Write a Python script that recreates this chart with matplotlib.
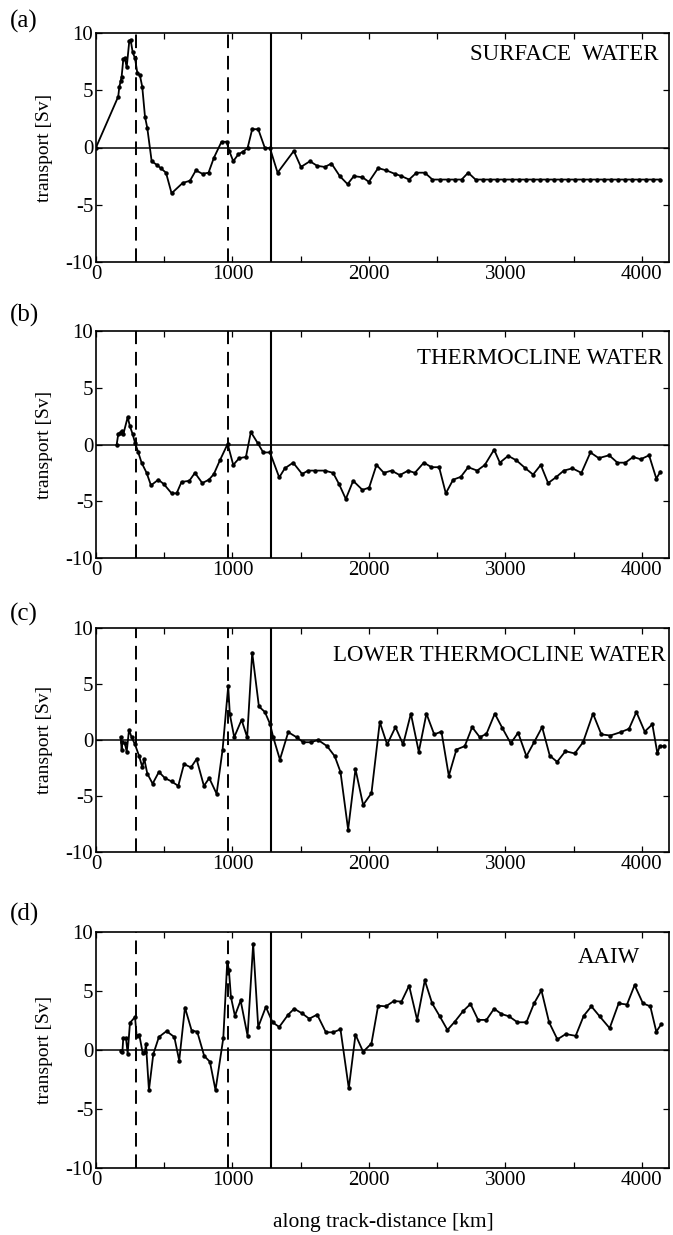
import matplotlib
matplotlib.use('Agg')
import matplotlib.pyplot as plt
import numpy as np

plt.rcParams['font.family'] = ['Liberation Serif', 'DejaVu Serif']

# (a) surface water
dist_a = [0, 163, 171, 181, 188, 200, 212, 225, 244, 254, 269, 286, 303, 322, 339, 359, 376,
          408, 444, 474, 513, 554, 635, 689, 732, 781, 825, 864, 920, 957, 977, 1006, 1043,
          1079, 1111, 1145, 1189, 1238, 1275, 1331, 1450, 1502, 1568, 1621, 1677, 1726, 1787,
          1844, 1890, 1953, 2000, 2068, 2129, 2190, 2239, 2295, 2349, 2410, 2466, 2520, 2581,
          2630, 2680, 2728, 2782, 2838, 2890, 2942, 2994, 3046, 3098, 3150, 3202, 3254, 3306,
          3358, 3410, 3462, 3514, 3566, 3618, 3670, 3722, 3774, 3826, 3878, 3930, 3982, 4034,
          4086, 4132]
trans_a = [0, 4.45, 5.3, 5.8, 6.2, 7.7, 7.8, 7.0, 9.3, 9.4, 8.3, 7.8, 6.5, 6.3, 5.3, 2.7, 1.7,
           -1.2, -1.5, -1.8, -2.2, -4.0, -3.1, -2.9, -2.0, -2.3, -2.2, -0.9, 0.5, 0.5, -0.3, -1.2,
           -0.6, -0.35, -0.05, 1.6, 1.6, -0.05, -0.05, -2.2, -0.3, -1.7, -1.2, -1.6, -1.7, -1.4,
           -2.5, -3.2, -2.5, -2.6, -3.0, -1.8, -2.0, -2.3, -2.5, -2.8, -2.2, -2.2, -2.8, -2.8,
           -2.8, -2.8, -2.8, -2.2, -2.8, -2.8, -2.8, -2.8, -2.8, -2.8, -2.8, -2.8, -2.8, -2.8,
           -2.8, -2.8, -2.8, -2.8, -2.8, -2.8, -2.8, -2.8, -2.8, -2.8, -2.8, -2.8, -2.8, -2.8,
           -2.8, -2.8, -2.8]

# (b) thermocline water
dist_b = [151, 163, 176, 188, 200, 232, 249, 269, 286, 310, 334, 371, 403, 457, 498, 554, 591,
          627, 684, 725, 779, 828, 864, 908, 965, 1006, 1050, 1099, 1135, 1184, 1226, 1275,
          1343, 1384, 1445, 1511, 1555, 1604, 1677, 1738, 1782, 1831, 1885, 1953, 2002, 2056,
          2110, 2166, 2227, 2288, 2337, 2403, 2459, 2515, 2564, 2618, 2674, 2728, 2794, 2850,
          2918, 2960, 3021, 3082, 3148, 3204, 3260, 3314, 3370, 3429, 3492, 3558, 3624, 3685,
          3761, 3822, 3880, 3937, 3993, 4054, 4107, 4137]
trans_b = [-0.05, 0.9, 1.0, 1.2, 0.9, 2.4, 1.6, 0.9, 0.15, -0.7, -1.6, -2.5, -3.6, -3.1, -3.5,
           -4.3, -4.3, -3.3, -3.2, -2.5, -3.4, -3.1, -2.6, -1.4, 0.05, -1.8, -1.2, -1.1, 1.1,
           0.15, -0.7, -0.7, -2.9, -2.1, -1.6, -2.6, -2.3, -2.3, -2.3, -2.5, -3.5, -4.8, -3.2,
           -4.0, -3.8, -1.8, -2.5, -2.3, -2.7, -2.3, -2.5, -1.6, -2.0, -2.0, -4.3, -3.1, -2.85,
           -2.0, -2.3, -1.8, -0.45, -1.6, -1.0, -1.4, -2.1, -2.65, -1.8, -3.4, -2.9, -2.3, -2.1,
           -2.5, -0.7, -1.2, -0.95, -1.6, -1.6, -1.1, -1.3, -0.95, -3.0, -2.4]

# (c) lower thermocline water
dist_c = [181, 188, 193, 212, 225, 242, 261, 286, 315, 339, 354, 376, 415, 461, 505, 554, 603,
          645, 696, 737, 791, 830, 884, 928, 969, 981, 1013, 1067, 1108, 1145, 1194, 1238, 1275,
          1299, 1348, 1409, 1470, 1519, 1575, 1628, 1694, 1750, 1792, 1848, 1902, 1958, 2019,
          2080, 2134, 2195, 2251, 2308, 2366, 2422, 2479, 2532, 2586, 2642, 2703, 2757, 2813,
          2862, 2923, 2977, 3040, 3094, 3155, 3211, 3270, 3326, 3380, 3441, 3509, 3570, 3643,
          3704, 3770, 3846, 3907, 3961, 4022, 4078, 4115, 4132, 4161]
trans_c = [0.25, -0.85, -0.2, -0.3, -1.05, 0.9, 0.25, -0.4, -1.4, -2.4, -1.7, -3.0, -3.9,
           -2.85, -3.4, -3.7, -4.1, -2.15, -2.45, -1.7, -4.1, -3.4, -4.8, -0.85, 4.8, 2.3, 0.25,
           1.8, 0.25, 7.8, 3.0, 2.5, 1.45, 0.25, -1.75, 0.7, 0.25, -0.2, -0.2, 0.0, -0.55, -1.45,
           -2.85, -8.0, -2.6, -5.8, -4.75, 1.6, -0.4, 1.15, -0.4, 2.35, -1.05, 2.35, 0.5, 0.75,
           -3.2, -0.85, -0.55, 1.15, 0.25, 0.55, 2.35, 1.1, -0.3, 0.65, -1.45, -0.2, 1.15, -1.4,
           -1.95, -1.0, -1.2, -0.2, 2.35, 0.5, 0.4, 0.7, 1.0, 2.5, 0.75, 1.4, -1.2, -0.55, -0.55]

# (d) AAIW
dist_d = [181, 193, 200, 220, 232, 249, 286, 298, 317, 342, 359, 366, 388, 420, 461, 517, 574,
          610, 652, 701, 742, 793, 835, 876, 933, 962, 974, 989, 1018, 1060, 1111, 1152, 1189,
          1245, 1294, 1343, 1409, 1453, 1511, 1563, 1621, 1685, 1738, 1792, 1853, 1902, 1958,
          2019, 2068, 2125, 2183, 2239, 2295, 2354, 2410, 2464, 2520, 2576, 2630, 2691, 2745,
          2801, 2862, 2918, 2972, 3028, 3089, 3155, 3211, 3265, 3321, 3382, 3443, 3516, 3575,
          3631, 3692, 3765, 3831, 3892, 3948, 4009, 4063, 4107, 4144]
trans_d = [-0.05, -0.2, 1.0, 1.0, -0.3, 2.3, 2.8, 1.2, 1.3, -0.25, -0.2, 0.55, -3.4, -0.35,
           1.1, 1.6, 1.1, -0.9, 3.6, 1.65, 1.55, -0.5, -1.0, -3.4, 1.0, 7.5, 6.8, 4.5, 2.9, 4.2,
           1.2, 9.0, 1.95, 3.65, 2.35, 1.95, 3.0, 3.5, 3.1, 2.65, 3.0, 1.5, 1.5, 1.75, -3.25,
           1.3, -0.15, 0.55, 3.75, 3.7, 4.15, 4.1, 5.45, 2.55, 5.9, 3.95, 2.85, 1.7, 2.4, 3.3,
           3.9, 2.55, 2.55, 3.5, 3.05, 2.85, 2.35, 2.35, 3.95, 5.05, 2.35, 0.9, 1.35, 1.2, 2.9,
           3.7, 2.85, 1.85, 3.95, 3.85, 5.5, 3.95, 3.7, 1.55, 2.2]

panel_labels = ['(a)', '(b)', '(c)', '(d)']
water_masses = ['SURFACE  WATER', 'THERMOCLINE WATER', 'LOWER THERMOCLINE WATER', 'AAIW']
section_dashed = [293, 967]
section_solid = 1280

W, H = 673, 1235
fig = plt.figure(figsize=(W / 100, H / 100), dpi=100)

# axes boxes in pixels: (top, bottom)
boxes = [(33, 262), (331, 558), (628, 852), (932, 1168)]
left_px, right_px = 96, 669
# title anchors in axes fraction
title_pos = [(0.981, 0.904), (0.99, 0.881), (0.994, 0.879), (0.949, 0.894)]
label_y = [21, 315, 614, 914]

series = [(dist_a, trans_a), (dist_b, trans_b), (dist_c, trans_c), (dist_d, trans_d)]

for i, (top, bot) in enumerate(boxes):
    ax = fig.add_axes([left_px / W, 1 - bot / H, (right_px - left_px) / W, (bot - top) / H])
    x, y = series[i]
    ax.plot(x, y, color='k', lw=1.3, marker='o', markersize=2.2)
    ax.axhline(0, color='k', lw=1.1)
    for xd in section_dashed:
        ax.axvline(xd, color='k', lw=1.4, linestyle=(0, (7, 4)))
    ax.axvline(section_solid, color='k', lw=1.5)

    ax.set_xlim(0, 4200)
    ax.set_ylim(-10, 10)
    ax.set_xticks(np.arange(0, 4001, 500))
    ax.set_xticklabels(['0', '', '1000', '', '2000', '', '3000', '', '4000'])
    ax.set_yticks([-10, -5, 0, 5, 10])
    ax.set_yticklabels(['-10', '-5', '0', '5', '10'])
    ax.tick_params(direction='in', top=True, right=True, length=4, width=0.9,
                   labelsize=15, pad=2)
    for s in ax.spines.values():
        s.set_linewidth(1.2)

    ax.set_ylabel('transport [Sv]', fontsize=14)
    ax.yaxis.set_label_coords(-0.075, 0.5)

    tx, ty = title_pos[i]
    ax.text(tx, ty, water_masses[i], transform=ax.transAxes, ha='right', va='center',
            fontsize=16.5)
    fig.text(10 / W, 1 - label_y[i] / H, panel_labels[i], ha='left', va='center', fontsize=18)

fig.text(383 / W, 1 - 1222 / H, 'along track-distance [km]', ha='center', va='center',
         fontsize=15.5)

fig.savefig('out.png', dpi=100)
